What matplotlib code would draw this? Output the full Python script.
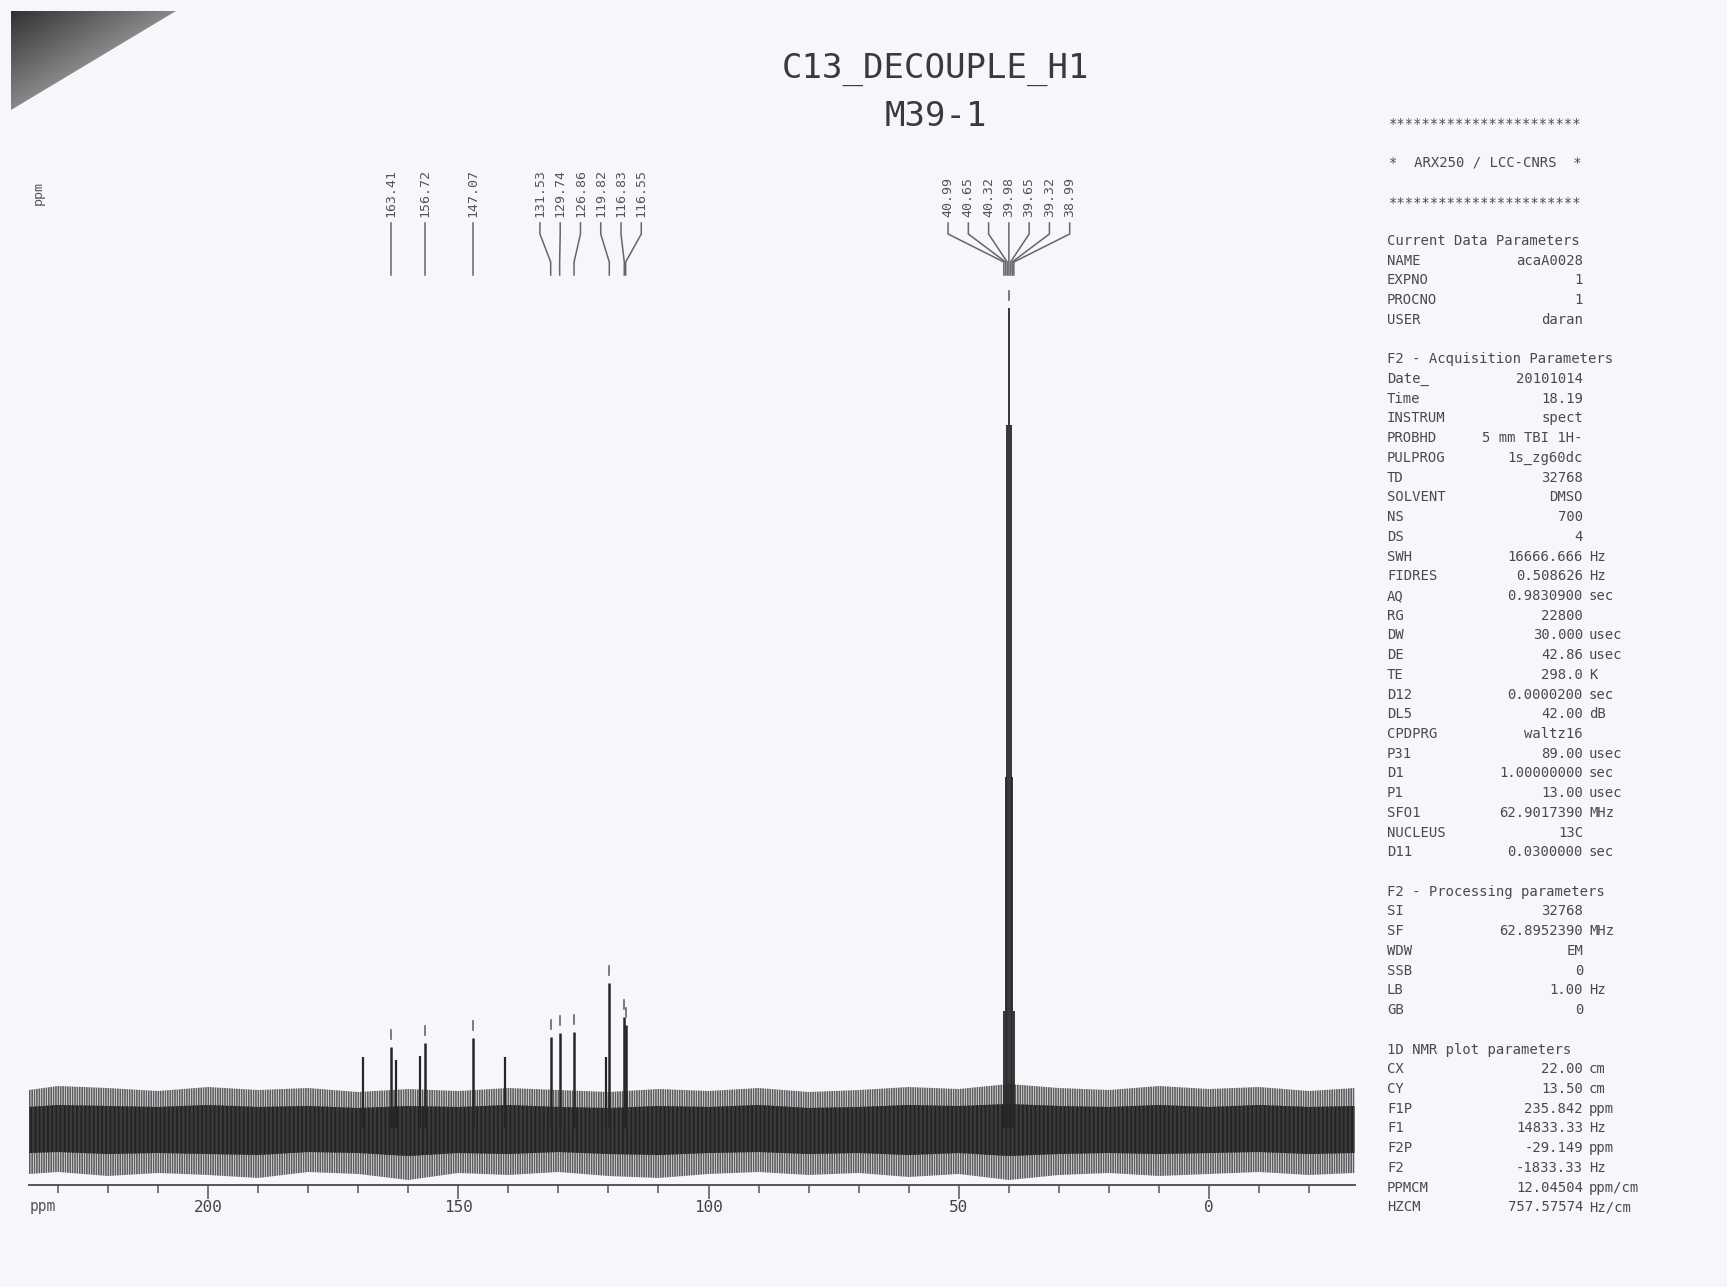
import matplotlib.pyplot as plt
from matplotlib.patches import Polygon
from matplotlib.ticker import MultipleLocator
import numpy as np

W, H = 1727, 1287
PAPER = "#f5f7fb"
INK = "#262626"
GREY = "#555555"
MONO = ["DejaVu Sans Mono"]

TITLE = "C13_DECOUPLE_H1"
SAMPLE = "M39-1"
PPM_LEFT, PPM_RIGHT = 235.842, -29.149

# picked peaks (ppm) and their heights above the baseline
PEAK_PPM = [163.41, 156.72, 147.07, 131.53, 129.74, 126.86, 119.82, 116.83, 116.55]
PEAK_HEIGHT = [81, 85, 90, 91, 95, 96, 145, 111, 103]

# DMSO-d6 septet
DMSO_PPM = [40.99, 40.65, 40.32, 39.98, 39.65, 39.32, 38.99]
DMSO_HEIGHT = [117, 351, 703, 820, 703, 351, 117]

# unpicked lines standing out of the noise
OTHER_PPM = [169.0, 162.4, 157.7, 140.7, 120.5]
OTHER_HEIGHT = [71, 68, 72, 71, 71]

# noise envelope
NOISE_PPM = [235.8, 230, 220, 210, 200, 190, 180, 170, 160, 150, 140, 130, 120, 110,
             100, 90, 80, 70, 60, 50, 40, 30, 20, 10, 0, -10, -20, -29.1]
NOISE_HI = [38, 42, 40, 37, 41, 38, 40, 36, 39, 37, 40, 38, 36, 39,
            37, 40, 36, 38, 41, 39, 44, 40, 38, 42, 39, 41, 37, 40]
NOISE_LO = [-46, -44, -48, -45, -47, -50, -44, -46, -52, -45, -47, -44, -48, -50,
            -46, -44, -47, -45, -49, -46, -52, -47, -45, -48, -46, -44, -47, -45]
CORE_HI = [21, 23, 22, 21, 23, 21, 22, 20, 22, 21, 23, 21, 20, 22,
           21, 23, 20, 21, 23, 22, 24, 22, 21, 23, 21, 23, 21, 22]
CORE_LO = [-25, -24, -26, -25, -26, -27, -24, -25, -28, -25, -26, -24, -26, -27,
           -25, -24, -26, -25, -27, -25, -28, -26, -25, -26, -25, -24, -26, -25]

PARAMS = [
    ("Current Data Parameters",),
    ("NAME", "acaA0028", ""), ("EXPNO", "1", ""), ("PROCNO", "1", ""), ("USER", "daran", ""),
    None,
    ("F2 - Acquisition Parameters",),
    ("Date_", "20101014", ""), ("Time", "18.19", ""), ("INSTRUM", "spect", ""),
    ("PROBHD", "5 mm TBI 1H-", ""), ("PULPROG", "1s_zg60dc", ""), ("TD", "32768", ""),
    ("SOLVENT", "DMSO", ""), ("NS", "700", ""), ("DS", "4", ""),
    ("SWH", "16666.666", "Hz"), ("FIDRES", "0.508626", "Hz"), ("AQ", "0.9830900", "sec"),
    ("RG", "22800", ""), ("DW", "30.000", "usec"), ("DE", "42.86", "usec"),
    ("TE", "298.0", "K"), ("D12", "0.0000200", "sec"), ("DL5", "42.00", "dB"),
    ("CPDPRG", "waltz16", ""), ("P31", "89.00", "usec"), ("D1", "1.00000000", "sec"),
    ("P1", "13.00", "usec"), ("SFO1", "62.9017390", "MHz"), ("NUCLEUS", "13C", ""),
    ("D11", "0.0300000", "sec"),
    None,
    ("F2 - Processing parameters",),
    ("SI", "32768", ""), ("SF", "62.8952390", "MHz"), ("WDW", "EM", ""),
    ("SSB", "0", ""), ("LB", "1.00", "Hz"), ("GB", "0", ""),
    None,
    ("1D NMR plot parameters",),
    ("CX", "22.00", "cm"), ("CY", "13.50", "cm"), ("F1P", "235.842", "ppm"),
    ("F1", "14833.33", "Hz"), ("F2P", "-29.149", "ppm"), ("F2", "-1833.33", "Hz"),
    ("PPMCM", "12.04504", "ppm/cm"), ("HZCM", "757.57574", "Hz/cm"),
]


def fx(px):
    return px / W


def fy(py):
    return 1 - py / H


def spread(ppms, gap):
    """Label slots: peaks closer than gap are pushed apart around their mean."""
    clusters = [[p] for p in ppms]
    changed = True
    while changed:
        changed = False
        out = [clusters[0]]
        for c in clusters[1:]:
            prev = out[-1]
            last = np.mean(prev) - gap * (len(prev) - 1) / 2
            first = np.mean(c) + gap * (len(c) - 1) / 2
            if last - first < gap:
                out[-1] = prev + c
                changed = True
            else:
                out.append(c)
        clusters = out
    slots = []
    for c in clusters:
        m = np.mean(c)
        slots += [m + gap * ((len(c) - 1) / 2 - i) for i in range(len(c))]
    return slots


fig = plt.figure(figsize=(W / 100, H / 100), dpi=100, facecolor=PAPER)

# baseline sits at y=0; axis line 57 px below it
x0 = 1209 - PPM_LEFT * 5.005
x1 = 1209 - PPM_RIGHT * 5.005
ax = fig.add_axes([fx(x0), fy(1185), fx(x1 - x0), (1185 - 150) / H])
ax.set_xlim(PPM_LEFT, PPM_RIGHT)
ax.set_ylim(-57, 978)
ax.patch.set_visible(False)
for s in ("top", "left", "right"):
    ax.spines[s].set_visible(False)
ax.spines["bottom"].set_color("#555555")
ax.spines["bottom"].set_linewidth(1.4)
ax.set_yticks([])
ax.xaxis.set_major_locator(MultipleLocator(50))
ax.xaxis.set_minor_locator(MultipleLocator(10))
ax.tick_params(axis="x", which="major", length=10, width=1.1, color="#555555",
               pad=1, labelsize=11.5, labelcolor="#444444")
ax.tick_params(axis="x", which="minor", length=6, width=1.1, color="#555555")
for lb in ax.get_xticklabels():
    lb.set_family(MONO)

# noise
plt.rcParams["hatch.linewidth"] = 1.2
ax.fill_between(NOISE_PPM, NOISE_LO, NOISE_HI, facecolor="none", edgecolor="#5c5c5c",
                hatch="|||||||", linewidth=0, zorder=1)
ax.fill_between(NOISE_PPM, CORE_LO, CORE_HI, facecolor="#3a3a3a", edgecolor="#222222",
                hatch="||||", linewidth=0, zorder=2)

# lines
ax.vlines(OTHER_PPM, 0, OTHER_HEIGHT, color=INK, lw=1.6, zorder=3)
ax.vlines(PEAK_PPM, 0, PEAK_HEIGHT, color=INK, lw=1.8, zorder=3)
ax.vlines(DMSO_PPM, 0, DMSO_HEIGHT, color=INK, lw=1.3, zorder=3)

# peak-pick marks
for p, h in zip(PEAK_PPM + DMSO_PPM[3:4], PEAK_HEIGHT + DMSO_HEIGHT[3:4]):
    ax.plot([p, p], [h + 8, h + 17], color="#666666", lw=1.2, zorder=3)

# peak labels with connectors
Y_TXT, Y_TOP, Y_K1, Y_K2, Y_BOT = 911, 905, 894, 866, 853
for ppms in (PEAK_PPM, DMSO_PPM):
    for p, s in zip(ppms, spread(ppms, 4.05)):
        ax.plot([s, s, p, p], [Y_TOP, Y_K1, Y_K2, Y_BOT], color="#666666", lw=1.1,
                clip_on=False)
        ax.text(s, Y_TXT, f"{p:.2f}", rotation=90, ha="center", va="bottom",
                fontsize=9.5, family=MONO, color=GREY)

fig.text(fx(43), fy(1207), "ppm", ha="center", va="center", fontsize=10.5,
         family=MONO, color=GREY)
fig.text(fx(38), fy(193), "ppm", ha="center", va="center", rotation=90, fontsize=9.5,
         family=MONO, color=GREY)

# title
fig.text(fx(936), fy(69), TITLE, ha="center", va="center", fontsize=24.5,
         family=MONO, color="#3a3a3a")
fig.text(fx(936), fy(116), SAMPLE, ha="center", va="center", fontsize=24.5,
         family=MONO, color="#3a3a3a")

# parameter block
tk = dict(fontsize=10, family=MONO, color="#4a4a4a", va="center")
fig.text(fx(1389), fy(124), "*" * 23, **tk)
fig.text(fx(1389), fy(163), "*  ARX250 / LCC-CNRS  *", **tk)
fig.text(fx(1389), fy(203), "*" * 23, **tk)
for i, row in enumerate(PARAMS):
    y = fy(241 + i * 19.72)
    if row is None:
        continue
    fig.text(fx(1387), y, row[0], ha="left", **tk)
    if len(row) == 3:
        fig.text(fx(1583), y, row[1], ha="right", **tk)
        if row[2]:
            fig.text(fx(1589), y, row[2], ha="left", **tk)

# folded page corner from the scan
cax = fig.add_axes([fx(11), fy(110), fx(165), 99 / H])
cax.axis("off")
grad = np.add.outer(np.linspace(0, 1, 50), np.linspace(0, 1, 50))
im = cax.imshow(grad, extent=[0, 1, 0, 1], cmap="gray", vmin=-0.6, vmax=2.4,
                aspect="auto")
im.set_clip_path(Polygon([(0, 1), (1, 1), (0, 0)], transform=cax.transData))

fig.savefig("out.png", dpi=100, facecolor=PAPER)
